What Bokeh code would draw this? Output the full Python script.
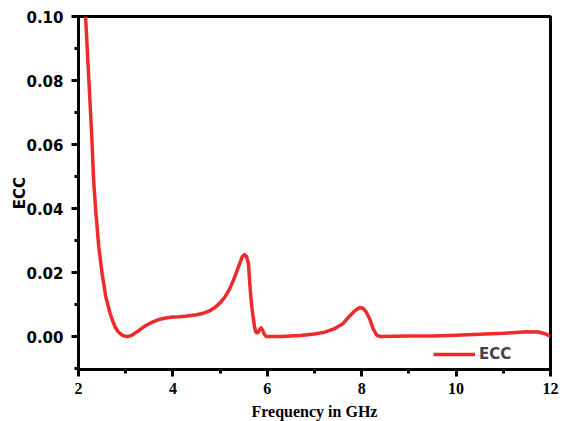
from bokeh.plotting import figure
from bokeh.models import SingleIntervalTicker, NumeralTickFormatter, Legend, LegendItem, Range1d
from bokeh.embed import file_html
from bokeh.resources import INLINE

# Envelope correlation coefficient vs frequency
freq = [2.15, 2.22, 2.28, 2.32, 2.37, 2.43, 2.50, 2.58, 2.67, 2.72, 2.78, 2.84, 2.90, 2.96, 3.03,
        3.10, 3.18, 3.28, 3.40, 3.55, 3.70, 3.85, 4.00, 4.15, 4.30, 4.50, 4.65, 4.80,
        4.90, 5.00, 5.10, 5.20, 5.28, 5.35, 5.42, 5.47, 5.52, 5.56, 5.60, 5.64, 5.67,
        5.70, 5.73, 5.76, 5.80, 5.84, 5.87, 5.90, 5.94, 5.98, 6.30, 6.70, 7.00, 7.20,
        7.43, 7.60, 7.72, 7.85, 7.95, 8.02, 8.09, 8.17, 8.24, 8.32, 8.40, 9.00, 9.50,
        10.00, 10.50, 11.00, 11.50, 11.75, 11.90, 12.00]
ecc = [0.100, 0.080, 0.063, 0.0488, 0.0384, 0.0279, 0.0197, 0.0123, 0.0072, 0.0050, 0.0029, 0.0015, 0.0007, 0.0002, 0.0000,
       0.0002, 0.0009, 0.0019, 0.0032, 0.0044, 0.0053, 0.0058, 0.0061, 0.0062, 0.0064, 0.0068, 0.0073, 0.0082,
       0.0092, 0.0105, 0.0123, 0.0148, 0.0175, 0.0202, 0.0230, 0.0250, 0.0256, 0.0250, 0.0228, 0.0144, 0.0095,
       0.0060, 0.0030, 0.0013, 0.0012, 0.0023, 0.0027, 0.0020, 0.0006, 0.0000, 0.0000, 0.0003, 0.0008, 0.0013,
       0.0025, 0.0040, 0.0060, 0.0080, 0.0090, 0.0089, 0.0078, 0.0055, 0.0025, 0.0004, 0.0000, 0.0002, 0.0002,
       0.0004, 0.0007, 0.0010, 0.0015, 0.0014, 0.0008, 0.0000]

p = figure(width=572, height=421, frame_width=472, frame_height=353,
           output_backend="svg", toolbar_location=None,
           x_range=Range1d(2, 12), y_range=Range1d(-0.0103, 0.10),
           min_border_left=78, min_border_right=22, min_border_top=16, min_border_bottom=52)

p.background_fill_color = "white"
p.border_fill_color = "white"
p.xgrid.visible = False
p.ygrid.visible = False
p.outline_line_color = "black"
p.outline_line_width = 3

r = p.line(freq, ecc, line_color="#ee2b2b", line_width=3.5, line_join="round")

# axes
xa = p.xaxis[0]
xa.ticker = SingleIntervalTicker(interval=2, num_minor_ticks=2)
xa.axis_label = "Frequency in GHz"
xa.axis_label_text_font = "Liberation Serif"
xa.axis_label_text_font_style = "bold"
xa.axis_label_text_font_size = "16px"
xa.axis_label_standoff = 6
xa.major_label_text_font = "Liberation Serif"
xa.major_label_text_font_style = "bold"
xa.major_label_text_font_size = "16px"
xa.major_label_standoff = 6

ya = p.yaxis[0]
ya.ticker = SingleIntervalTicker(interval=0.02, num_minor_ticks=2)
ya.formatter = NumeralTickFormatter(format="0.00")
ya.axis_label = "ECC"
ya.axis_label_text_font = "DejaVu Sans"
ya.axis_label_text_font_style = "bold"
ya.axis_label_text_font_size = "15px"
ya.axis_label_standoff = -6
ya.major_label_text_font = "DejaVu Sans"
ya.major_label_text_font_style = "bold"
ya.major_label_text_font_size = "15px"
ya.major_label_standoff = 8

for ax in (xa, ya):
    ax.axis_line_width = 3
    ax.axis_line_color = "black"
    ax.major_tick_line_width = 3
    ax.minor_tick_line_width = 3
    ax.major_tick_in = 0
    ax.major_tick_out = 7
    ax.minor_tick_in = 0
    ax.minor_tick_out = 4
    ax.major_label_text_color = "black"
    ax.axis_label_text_color = "black"

legend = Legend(items=[LegendItem(label="ECC", renderers=[r])],
                location=(355, 4), border_line_color=None, background_fill_alpha=0,
                label_text_font="DejaVu Sans", label_text_font_style="bold",
                label_text_font_size="15px", glyph_width=42, glyph_height=22,
                padding=2, margin=0, label_standoff=4)
p.add_layout(legend, "center")

open("out.html", "w").write(file_html(p, INLINE))
